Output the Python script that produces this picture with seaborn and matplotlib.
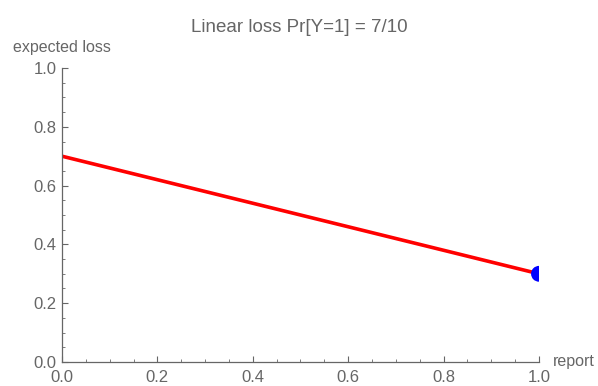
import matplotlib
matplotlib.use('Agg')
import matplotlib.pyplot as plt
import seaborn as sns
import pandas as pd
from matplotlib.ticker import MultipleLocator

# data
report = [0.0, 1.0]
expected_loss = [0.7, 0.3]
best_report = [1.0]
best_loss = [0.3]

df = pd.DataFrame({'report': report, 'loss': expected_loss})
pt = pd.DataFrame({'report': best_report, 'loss': best_loss})

sns.set_style('ticks')
plt.rcParams['font.family'] = ['Liberation Sans', 'DejaVu Sans']
gray = '#666666'

fig = plt.figure(figsize=(5.98, 3.86), dpi=100)
ax = fig.add_axes([0.1037, 0.0622, 0.7976, 0.7616])

sns.lineplot(data=df, x='report', y='loss', color='#ff0000', linewidth=2.6, ax=ax)
sns.scatterplot(data=pt, x='report', y='loss', color='#0000ff', s=130,
                edgecolor='none', ax=ax, zorder=5)

ax.set_xlim(0, 1)
ax.set_ylim(0, 1)
ax.xaxis.set_major_locator(MultipleLocator(0.2))
ax.yaxis.set_major_locator(MultipleLocator(0.2))
ax.xaxis.set_minor_locator(MultipleLocator(0.05))
ax.yaxis.set_minor_locator(MultipleLocator(0.05))
ax.tick_params(which='major', direction='in', length=4, width=0.8, color=gray,
               labelcolor=gray, labelsize=12)
ax.tick_params(axis='x', which='major', pad=6)
ax.tick_params(axis='y', which='major', pad=4)
ax.tick_params(which='minor', direction='in', length=2, width=0.6, color=gray)
for s in ['top', 'right']:
    ax.spines[s].set_visible(False)
for s in ['left', 'bottom']:
    ax.spines[s].set_color(gray)
    ax.spines[s].set_linewidth(0.9)

ax.set_xlabel('')
ax.set_ylabel('')
ax.text(1.03, 0.0, 'report', transform=ax.transAxes, ha='left', va='center',
        color=gray, fontsize=11.5)
ax.text(0.0, 1.045, 'expected loss', transform=ax.transAxes, ha='center',
        va='bottom', color=gray, fontsize=11.5)
fig.text(0.5, 0.93, 'Linear loss Pr[Y=1] = 7/10', ha='center', va='center',
         color=gray, fontsize=13.5)

fig.savefig('out.png', dpi=100)
